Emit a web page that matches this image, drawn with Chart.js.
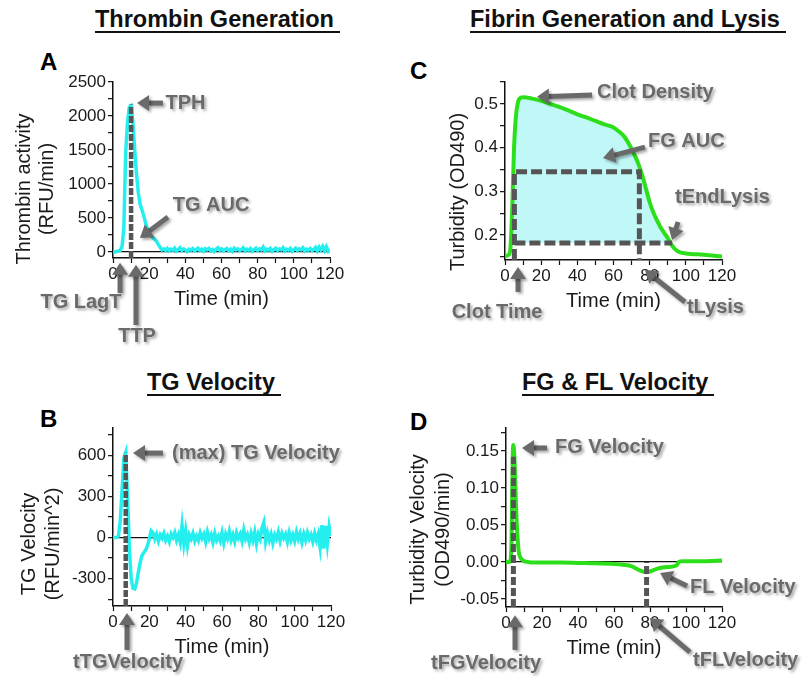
<!DOCTYPE html>
<html>
<head>
<meta charset="utf-8">
<script src="https://cdn.jsdelivr.net/npm/chart.js@4.4.1/dist/chart.umd.min.js"></script>
<style>
  body { margin: 0; background: #fff; width: 804px; height: 677px; position: relative; overflow: hidden;
         font-family: "Liberation Sans", Arial, sans-serif; }
  canvas { position: absolute; left: 0; top: 0; }
  .ttl { position: absolute; font-weight: bold; font-size: 23.5px; line-height: 24px; color: #111;
         border-bottom: 2px solid #111; white-space: nowrap; padding-right: 6px; }
  .lt { position: absolute; font-weight: bold; font-size: 24px; line-height: 24px; color: #000; }
</style>
</head>
<body>
<div class="ttl" style="left:95px;top:7px">Thrombin Generation</div>
<div class="ttl" style="left:470px;top:7px">Fibrin Generation and Lysis</div>
<div class="ttl" style="left:147px;top:370px">TG Velocity</div>
<div class="ttl" style="left:522px;top:370px">FG &amp; FL Velocity</div>
<div class="lt" style="left:40px;top:50px">A</div>
<div class="lt" style="left:40px;top:407px">B</div>
<div class="lt" style="left:410px;top:59px">C</div>
<div class="lt" style="left:410px;top:410px">D</div>
<canvas id="cA" width="804" height="677"></canvas>
<canvas id="cB" width="804" height="677"></canvas>
<canvas id="cC" width="804" height="677"></canvas>
<canvas id="cD" width="804" height="677"></canvas>
<script>
// ---- data ----
const minutes = [
  0,1,2,3,4,5,6,7,8,9,10,11,12,13,14,15,16,17,18,19,20,21,22,23,24,25,26,27,28,29,
  30,31,32,33,34,35,36,37,38,39,40,41,42,43,44,45,46,47,48,49,50,51,52,53,54,55,56,57,58,59,
  60,61,62,63,64,65,66,67,68,69,70,71,72,73,74,75,76,77,78,79,80,81,82,83,84,85,86,87,88,89,
  90,91,92,93,94,95,96,97,98,99,100,101,102,103,104,105,106,107,108,109,110,111,112,113,114,115,116,117,118,119,120
];

// A: thrombin activity (RFU/min)
const thrombin = [
  0,0,5,15,20,80,350,1450,1900,2130,2150,1900,1500,1150,870,700,620,530,430,340,280,240,210,185,160,110,70,30,45,20,
  50,15,40,25,55,10,35,60,20,45,30,5,40,25,50,15,35,55,20,40,10,45,30,50,20,35,5,40,60,25,
  45,15,35,50,20,40,10,55,30,45,20,35,60,15,40,25,50,10,35,55,20,45,30,70,15,40,25,50,10,35,
  55,20,45,30,60,15,40,25,50,10,35,55,20,45,30,60,15,40,25,50,20,35,65,15,70,30,80,20,75,10,40
];

// B: TG velocity (RFU/min^2)
const tgVelocity = [
  0,0,0,10,120,350,580,620,300,-80,-300,-370,-375,-330,-250,-180,-130,-110,-90,-60,-10,50,35,-10,25,-25,20,-5,30,-20,
  10,-30,25,0,35,-20,20,-35,90,-45,50,-60,20,-10,30,-25,10,-20,35,-5,25,-30,40,-10,20,-35,30,-20,10,-25,
  35,-40,25,-10,45,-20,20,-30,35,-5,25,-25,55,-10,20,-35,30,-20,40,-45,25,-10,70,110,-30,35,-20,25,-40,20,
  -10,40,-25,30,-5,25,-30,35,-20,20,-25,40,-10,30,-35,25,-20,35,-10,20,-30,30,-20,25,-70,90,-80,85,-45,80,10
];

// C: turbidity (OD490)
const clotTime = [0, 2, 3, 4, 5, 6, 7, 8, 10, 15, 20, 25, 30, 35, 40, 45, 50, 55, 60, 63, 66, 69, 72, 74, 76, 78,
                  80, 82, 84, 86, 88, 90, 92, 94, 96, 100, 110, 120];
const turbidity = [0.152, 0.155, 0.17, 0.26, 0.40, 0.47, 0.50, 0.512, 0.515, 0.512, 0.507, 0.500, 0.493, 0.485,
                   0.476, 0.469, 0.461, 0.453, 0.446, 0.437, 0.425, 0.405, 0.38, 0.36, 0.335, 0.305,
                   0.275, 0.252, 0.234, 0.218, 0.205, 0.193, 0.178, 0.168, 0.162, 0.158, 0.155, 0.151];

// D: turbidity velocity (OD490/min)
const fgTime = [0, 2, 3, 3.5, 4, 4.5, 5, 5.5, 6, 6.5, 7, 8, 9, 10, 12, 15, 20, 30, 40, 50, 60, 65, 70, 73, 76, 78,
                80, 83, 86, 90, 93, 95, 96, 98, 100, 110, 120];
const fgVelocity = [0, 0, 0.02, 0.10, 0.158, 0.15, 0.12, 0.08, 0.05, 0.03, 0.015, 0.006, 0.003, 0.001, 0, -0.001,
                    -0.001, -0.001, -0.0015, -0.002, -0.003, -0.004, -0.006, -0.010, -0.013, -0.014,
                    -0.013, -0.010, -0.008, -0.007, -0.006, -0.004, 0, 0.001, 0.001, 0.001, 0.002];

// marker values (dashed lines)
const ttp = 10, tph = 2170;
const tTGVel = 7, maxTGVel = 620;
const clotT = 5.2, tLysis = 74.3, tEndLysis = 92.5, halfDensity = 0.345, baseDensity = 0.182;
const tFGVel = 4.1, maxFGVel = 0.142, tFLVel = 78.1;

// ticks
const xTicks = [0, 10, 20, 30, 40, 50, 60, 70, 80, 90, 100, 110, 120];
const xLabels = [0, 20, 40, 60, 80, 100, 120];
const yTicksA = [0, 250, 500, 750, 1000, 1250, 1500, 1750, 2000, 2250, 2500];
const yLabelsA = [0, 500, 1000, 1500, 2000, 2500];
const yTicksB = [-450, -300, -150, 0, 150, 300, 450, 600, 750];
const yLabelsB = [-300, 0, 300, 600];
const yTicksC = [0.15, 0.2, 0.25, 0.3, 0.35, 0.4, 0.45, 0.5, 0.55];
const yLabelsC = [0.2, 0.3, 0.4, 0.5];
const yTicksD = [-0.05, -0.025, 0, 0.025, 0.05, 0.075, 0.1, 0.125, 0.15, 0.175];
const yLabelsD = [-0.05, 0, 0.05, 0.10, 0.15];

// ---- drawing ----
const FONT = '"Liberation Sans", Arial, sans-serif';
Chart.defaults.font.family = FONT;
const CYAN = '#25eeee', GREEN = '#2ddf1a', DASH = '#555555', FILL = '#c0f8f8';

const pts = (xs, ys) => xs.map((x, i) => ({ x, y: ys[i] }));

function dashed(data, w, dash) {
  return { data, borderColor: DASH, borderWidth: w, borderDash: dash, pointRadius: 0, fill: false, tension: 0 };
}

function drawArrow(ctx, [x1, y1], [x2, y2]) {
  const a = Math.atan2(y2 - y1, x2 - x1), L = 12, hw = 8;
  const bx = x2 - L * Math.cos(a), by = y2 - L * Math.sin(a);
  ctx.lineWidth = 5;
  ctx.beginPath(); ctx.moveTo(x1, y1); ctx.lineTo(bx + Math.cos(a), by + Math.sin(a)); ctx.stroke();
  ctx.beginPath(); ctx.moveTo(x2, y2);
  ctx.lineTo(bx + hw * Math.sin(a), by - hw * Math.cos(a));
  ctx.lineTo(bx - hw * Math.sin(a), by + hw * Math.cos(a));
  ctx.closePath(); ctx.fill();
}

const notesPlugin = {
  id: 'notes',
  afterDraw(chart, args, o) {
    const { ctx, chartArea: ca, scales: { x, y } } = chart;
    const px = p => [x.getPixelForValue(p[0]), y.getPixelForValue(p[1])];
    ctx.save();
    // axis titles
    ctx.fillStyle = '#1a1a1a';
    ctx.font = '20px ' + FONT;
    ctx.textAlign = 'center'; ctx.textBaseline = 'middle';
    ctx.fillText('Time (min)', (ca.left + ca.right) / 2, ca.bottom + 41);
    o.yTitle.forEach((t, i) => {
      ctx.save();
      ctx.translate(ca.left + o.yTitleX[i], (ca.top + ca.bottom) / 2 + o.yTitleDy);
      ctx.rotate(-Math.PI / 2);
      ctx.fillText(t, 0, 0);
      ctx.restore();
    });
    // call-outs
    ctx.shadowColor = 'rgba(0,0,0,0.35)'; ctx.shadowBlur = 3;
    ctx.shadowOffsetX = 2; ctx.shadowOffsetY = 2;
    ctx.fillStyle = ctx.strokeStyle = '#6a6a6a';
    o.arrows.forEach(a => drawArrow(ctx, px(a[0]), px(a[1])));
    ctx.font = 'bold 20px ' + FONT;
    o.labels.forEach(l => {
      const [lx, ly] = px(l.at);
      ctx.textAlign = l.align || 'left';
      ctx.fillText(l.text, lx, ly);
    });
    ctx.restore();
  }
};

function panel(id, p) {
  const W = 804, H = 677, [l, t, r, b] = p.area;
  const isLabel = (list, v) => list.some(m => Math.abs(m - v) < 1e-9);
  return new Chart(document.getElementById(id), {
    type: 'line',
    data: { datasets: p.datasets },
    options: {
      responsive: false, animation: false,
      layout: { padding: { left: l - 80, top: t, right: W - r, bottom: H - b - 30 } },
      plugins: { legend: { display: false }, tooltip: { enabled: false }, notes: p.notes },
      scales: {
        x: {
          type: 'linear', min: 0, max: 120,
          afterFit: s => { s.height = 30; },
          afterBuildTicks: s => { s.ticks = xTicks.map(v => ({ value: v })); },
          ticks: { autoSkip: false, maxRotation: 0, padding: 1, color: '#1a1a1a', font: { size: 17 },
                   callback: v => isLabel(xLabels, v) ? String(v) : '' },
          grid: { drawOnChartArea: false, tickLength: 5, tickColor: '#111', tickWidth: 1.2 },
          border: { color: '#111', width: 1.5 }
        },
        y: {
          type: 'linear', min: p.yRange[0], max: p.yRange[1],
          afterFit: s => { s.width = 80; },
          afterBuildTicks: s => { s.ticks = p.yTicks.map(v => ({ value: v })); },
          ticks: { autoSkip: false, padding: 2, color: '#1a1a1a', font: { size: 17 },
                   callback: v => isLabel(p.yLabels, v) ? p.fmt(v) : '' },
          grid: {
            drawOnChartArea: p.zeroLine,
            color: c => (c.tick && Math.abs(c.tick.value) < 1e-9) ? '#111' : 'rgba(0,0,0,0)',
            lineWidth: 1.3, tickLength: 5, tickColor: '#111', tickWidth: 1.2
          },
          border: { color: '#111', width: 1.5 }
        }
      }
    },
    plugins: [notesPlugin]
  });
}

// A
panel('cA', {
  area: [113, 82, 330, 258], yRange: [-90, 2500], yTicks: yTicksA, yLabels: yLabelsA, fmt: v => String(v), zeroLine: true,
  datasets: [
    dashed([{ x: ttp, y: -90 }, { x: ttp, y: tph }], 4.5, [7, 2]),
    { data: pts(minutes, thrombin), borderColor: CYAN, borderWidth: 3.5, pointRadius: 0, tension: 0 }
  ],
  notes: {
    yTitle: ['Thrombin activity', '(RFU/min)'], yTitleX: [-89, -66], yTitleDy: 19,
    labels: [
      { text: 'TPH', at: [29, 2190] },
      { text: 'TG AUC', at: [33, 690] },
      { text: 'TG LagT', at: [-17.7, -740], align: 'center' },
      { text: 'TTP', at: [13.3, -1250], align: 'center' }
    ],
    arrows: [
      [[27.6, 2190], [13.3, 2190]],
      [[30.4, 513], [14.9, 204]],
      [[3.9, -605], [3.9, -160]],
      [[12.7, -1076], [12.7, -190]]
    ]
  }
});

// B
panel('cB', {
  area: [113, 428, 331, 606], yRange: [-500, 800], yTicks: yTicksB, yLabels: yLabelsB, fmt: v => String(v), zeroLine: true,
  datasets: [
    dashed([{ x: tTGVel, y: -500 }, { x: tTGVel, y: maxTGVel }], 4.5, [7, 2]),
    { data: pts(minutes, tgVelocity), borderColor: CYAN, borderWidth: 3.5, pointRadius: 0, tension: 0 }
  ],
  notes: {
    yTitle: ['TG Velocity', '(RFU/min^2)'], yTitleX: [-84, -60], yTitleDy: 27,
    labels: [
      { text: '(max) TG Velocity', at: [32.5, 617] },
      { text: 'tTGVelocity', at: [8.3, -916], align: 'center' }
    ],
    arrows: [
      [[27.5, 617], [11, 617]],
      [[7.7, -821], [7.7, -551]]
    ]
  }
});

// C
panel('cC', {
  area: [505, 82, 722, 260], yRange: [0.143, 0.55], yTicks: yTicksC, yLabels: yLabelsC, fmt: v => v.toFixed(1), zeroLine: false,
  datasets: [
    dashed([{ x: clotT, y: 0.143 }, { x: clotT, y: halfDensity }, { x: tLysis, y: halfDensity }, { x: tLysis, y: 0.143 }], 5, [11, 4]),
    dashed([{ x: clotT, y: baseDensity }, { x: tEndLysis, y: baseDensity }], 5, [11, 4]),
    { data: pts(clotTime, turbidity), borderColor: GREEN, borderWidth: 4, pointRadius: 0,
      cubicInterpolationMode: 'monotone',
      fill: { value: baseDensity, above: FILL, below: 'rgba(0,0,0,0)' } }
  ],
  notes: {
    yTitle: ['Turbidity (OD490)'], yTitleX: [-47], yTitleDy: 21,
    labels: [
      { text: 'Clot Density', at: [50.9, 0.525] },
      { text: 'FG AUC', at: [79.1, 0.413] },
      { text: 'tEndLysis', at: [94, 0.287] },
      { text: 'tLysis', at: [100.6, 0.035] },
      { text: 'Clot Time', at: [-4.4, 0.024], align: 'center' }
    ],
    arrows: [
      [[48.1, 0.520], [17.7, 0.516]],
      [[77.4, 0.401], [54.2, 0.376]],
      [[95.7, 0.230], [92.4, 0.189]],
      [[99.5, 0.047], [77.4, 0.120]],
      [[7.2, 0.070], [7.2, 0.127]]
    ]
  }
});

// D
panel('cD', {
  area: [506, 428, 722, 607], yRange: [-0.061, 0.181], yTicks: yTicksD, yLabels: yLabelsD, fmt: v => v.toFixed(2), zeroLine: true,
  datasets: [
    dashed([{ x: tFGVel, y: -0.061 }, { x: tFGVel, y: maxFGVel }], 5, [8, 3]),
    dashed([{ x: tFLVel, y: -0.061 }, { x: tFLVel, y: 0 }], 5, [8, 3]),
    { data: pts(fgTime, fgVelocity), borderColor: GREEN, borderWidth: 4, pointRadius: 0,
      cubicInterpolationMode: 'monotone' }
  ],
  notes: {
    yTitle: ['Turbidity Velocity', '(OD490/min)'], yTitleX: [-88, -63], yTitleDy: 12,
    labels: [
      { text: 'FG Velocity', at: [27.2, 0.154] },
      { text: 'FL Velocity', at: [102.2, -0.034] },
      { text: 'tFGVelocity', at: [-11.1, -0.137], align: 'center' },
      { text: 'tFLVelocity', at: [103.9, -0.133] }
    ],
    arrows: [
      [[22.8, 0.154], [8.9, 0.154]],
      [[100.6, -0.0326], [85.6, -0.015]],
      [[5, -0.119], [5, -0.072]],
      [[102.2, -0.122], [80, -0.076]]
    ]
  }
});
</script>
</body>
</html>
